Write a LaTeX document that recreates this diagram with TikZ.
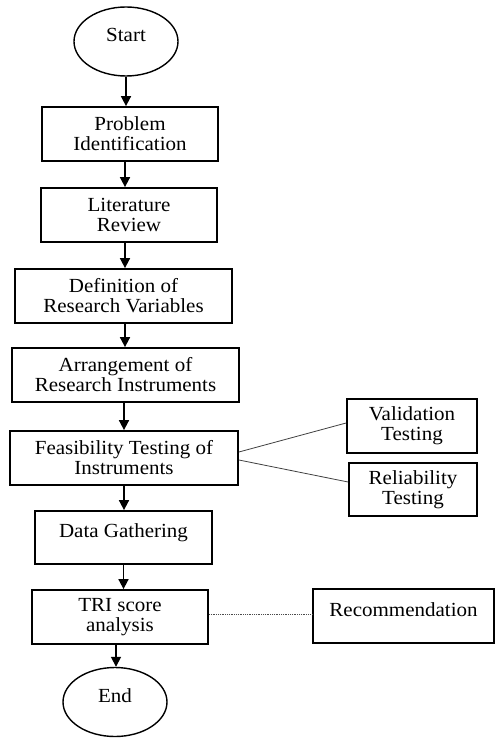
\documentclass[tikz,border=0pt]{standalone}
\usepackage{fontspec}
\setmainfont{Liberation Serif}[FakeStretch=1.05]
\usetikzlibrary{arrows.meta,shapes.geometric}
\newcommand\zb[1]{\raisebox{0pt}[0pt][0pt]{#1}}
\begin{document}
\begin{tikzpicture}[x=1pt,y=-1pt,
 box/.style={draw,line width=1.8pt,rectangle,align=center,inner sep=0pt,font=\fontsize{20}{20}\selectfont},
 term/.style={draw,line width=1.4pt,ellipse,inner sep=0pt,font=\fontsize{20}{20}\selectfont},
 flow/.style={line width=1.7pt,-{Triangle[length=10pt,width=10pt]}},
 link/.style={line width=0.8pt,draw=black!75},
 dotlink/.style={line width=0.8pt,draw=black!70,densely dotted}]
\useasboundingbox (0,0) rectangle (495,738);
\node[term,minimum width=104pt,minimum height=69pt] (start) at (126,41.5) {\zb{Start}};
\node[box,minimum width=176pt,minimum height=54pt] (pi) at (130,134) {Problem\\Identification};
\node[box,minimum width=176pt,minimum height=54pt] (lr) at (129,215) {Literature\\Review};
\node[box,minimum width=217pt,minimum height=54pt] (def) at (123.5,296) {Definition of\\Research Variables};
\node[box,minimum width=227pt,minimum height=54pt] (arr) at (125.5,375) {Arrangement of\\Research Instruments};
\node[box,minimum width=228pt,minimum height=54pt] (feas) at (124,458) {Feasibility Testing of\\Instruments};
\node[box,minimum width=130pt,minimum height=54pt] (val) at (412,426) {Validation\\Testing};
\node[box,minimum width=128pt,minimum height=53pt] (rel) at (413,489.5) {Reliability\\Testing};
\node[box,minimum width=177pt,minimum height=53pt] (data) at (123.5,537.5) {\zb{Data Gathering}};
\node[box,minimum width=176pt,minimum height=54pt] (tri) at (120,617) {TRI score\\analysis};
\node[box,minimum width=181pt,minimum height=54pt] (rec) at (403.5,616) {\zb{Recommendation}};
\node[term,minimum width=104pt,minimum height=69pt] (end) at (115,702) {\zb{End}};
\draw[flow] (start.south) -- (start.south |- pi.north);
\draw[flow] ([xshift=-5pt]pi.south) -- ([xshift=-5pt]pi.south |- lr.north);
\draw[flow] ([xshift=-4pt]lr.south) -- ([xshift=-4pt]lr.south |- def.north);
\draw[flow] ([xshift=1.5pt]def.south) -- ([xshift=1.5pt]def.south |- arr.north);
\draw[flow] ([xshift=-1.5pt]arr.south) -- ([xshift=-1.5pt]arr.south |- feas.north);
\draw[flow] (feas.south) -- (feas.south |- data.north);
\draw[flow] (data.south) -- (data.south |- tri.north);
\draw[flow] ([xshift=-4pt]tri.south) -- ([xshift=-4pt]tri.south |- end.north);
\draw[link] ([yshift=6pt]feas.east) -- ([yshift=3pt]val.west);
\draw[link] ([yshift=-2pt]feas.east) -- ([yshift=7.5pt]rel.west);
\draw[dotlink] ([yshift=3pt]tri.east) -- ([yshift=2pt]rec.west);
\end{tikzpicture}
\end{document}
